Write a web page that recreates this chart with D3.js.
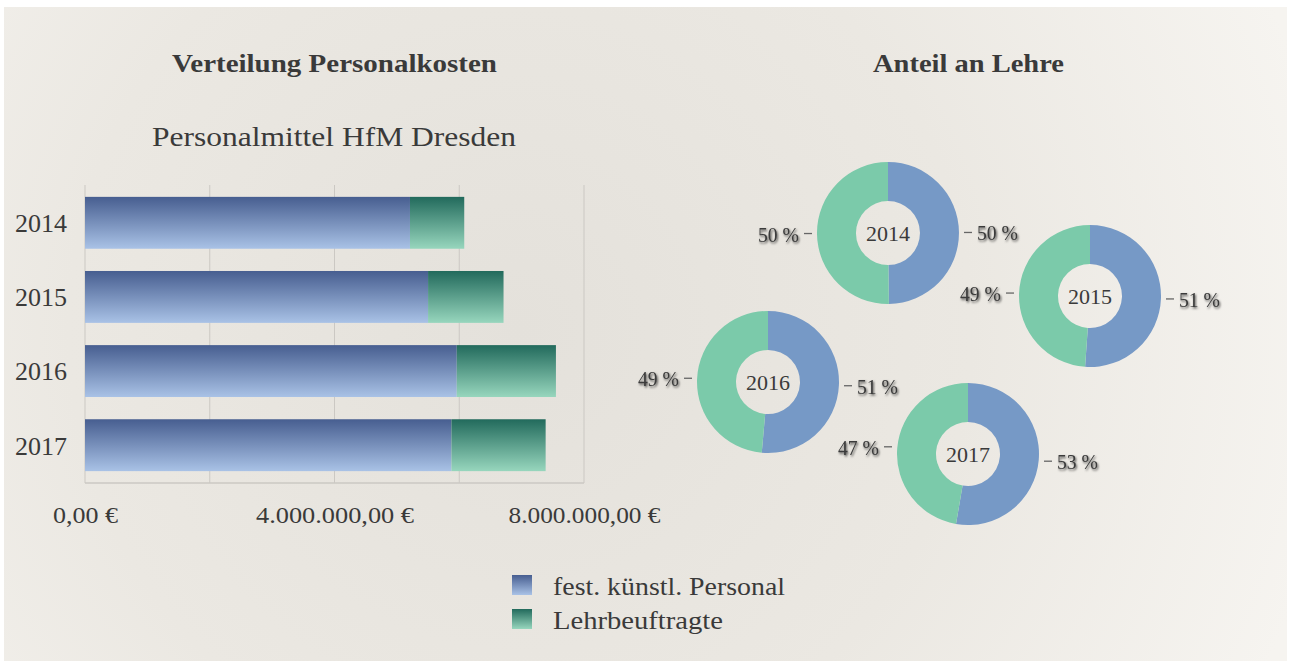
<!DOCTYPE html>
<html><head><meta charset="utf-8">
<script src="https://cdn.jsdelivr.net/npm/d3@7"></script>
<style>
html,body{margin:0;padding:0;background:#fff;}
svg{display:block;}
text{font-family:"Liberation Serif","DejaVu Serif",serif;fill:#3a3a3a;}
</style></head>
<body>
<svg id="c" width="1290" height="665"></svg>
<script>
// ---- data ----
const years = ["2014", "2015", "2016", "2017"];
const festPersonal = [5210000, 5500000, 5960000, 5875000];
const lehrbeauftragte = [870000, 1210000, 1590000, 1510000];
const xTickLabels = [0, 4000000, 8000000];
const xGridValues = [0, 2000000, 4000000, 6000000, 8000000];
const lehreShareFest = [49.8, 51.1, 51.4, 52.7];   // % fest. künstl. Personal
const seriesNames = ["fest. künstl. Personal", "Lehrbeuftragte"];
const titleLeft = "Verteilung Personalkosten";
const titleRight = "Anteil an Lehre";
const subtitle = "Personalmittel HfM Dresden";

const svg = d3.select("#c");
const defs = svg.append("defs");

// background paper
const bg = defs.append("radialGradient").attr("id","bg").attr("gradientUnits","userSpaceOnUse")
  .attr("cx",520).attr("cy",330).attr("r",820);
bg.append("stop").attr("offset","0").attr("stop-color","#e4e1db");
bg.append("stop").attr("offset","0.55").attr("stop-color","#ebe8e2");
bg.append("stop").attr("offset","1").attr("stop-color","#f6f4f0");
svg.append("rect").attr("x",4).attr("y",7).attr("width",1283).attr("height",654).attr("fill","url(#bg)");

function grad(id, top, bottom){
  const g = defs.append("linearGradient").attr("id",id).attr("x1",0).attr("y1",0).attr("x2",0).attr("y2",1);
  g.append("stop").attr("offset","0").attr("stop-color",top);
  g.append("stop").attr("offset","1").attr("stop-color",bottom);
}
grad("gBlue","#475e90","#a9c2e6");
grad("gGreen","#226a5c","#97d6bd");

const shadow = defs.append("filter").attr("id","sh").attr("x","-20%").attr("y","-30%").attr("width","150%").attr("height","170%");
shadow.append("feDropShadow").attr("dx",1).attr("dy",1.5).attr("stdDeviation",1.1).attr("flood-color","#000").attr("flood-opacity",0.7);

function fit(sel, w){ sel.attr("textLength", w).attr("lengthAdjust","spacingAndGlyphs"); return sel; }

// titles
fit(svg.append("text").attr("x",334.5).attr("y",72).attr("text-anchor","middle")
  .attr("font-size",25).attr("font-weight","bold").text(titleLeft),325);
fit(svg.append("text").attr("x",968.5).attr("y",72).attr("text-anchor","middle")
  .attr("font-size",25).attr("font-weight","bold").text(titleRight),191);
fit(svg.append("text").attr("x",334).attr("y",146).attr("text-anchor","middle")
  .attr("font-size",27).text(subtitle),364);

// ---- bar chart ----
const x = d3.scaleLinear().domain([0,8000000]).range([85,584]);
const y = d3.scaleBand().domain(years).range([185,483]).paddingInner(0.3).paddingOuter(0.16);

const de = d3.formatLocale({decimal:",", thousands:".", grouping:[3], currency:["","\u00a0€"]});
const fmt = v => de.format(",.2f")(v) + " €";
const tickWidths = [65, 158, 152];

// grid
svg.append("g").selectAll("line").data(xGridValues).join("line")
  .attr("x1",d=>x(d)).attr("x2",d=>x(d)).attr("y1",185).attr("y2",483)
  .attr("stroke","#cbc8c3").attr("stroke-width",1);
svg.append("line").attr("x1",x(0)).attr("x2",x(8000000)).attr("y1",483).attr("y2",483)
  .attr("stroke","#cbc8c3").attr("stroke-width",1.5);

const rows = years.map((yr,i)=>({yr, a:festPersonal[i], b:lehrbeauftragte[i]}));
const bars = svg.append("g");
bars.selectAll("rect.a").data(rows).join("rect").attr("class","a")
  .attr("x",x(0)).attr("y",d=>y(d.yr)).attr("width",d=>x(d.a)-x(0)).attr("height",y.bandwidth())
  .attr("fill","url(#gBlue)");
bars.selectAll("rect.b").data(rows).join("rect").attr("class","b")
  .attr("x",d=>x(d.a)).attr("y",d=>y(d.yr)).attr("width",d=>x(d.a+d.b)-x(d.a)).attr("height",y.bandwidth())
  .attr("fill","url(#gGreen)");

// y axis labels
const ya = svg.append("g").attr("transform","translate(85,0)")
  .call(d3.axisLeft(y).tickSize(0).tickPadding(18));
ya.select(".domain").remove();
ya.selectAll("text").attr("font-size",26).attr("font-family",null).attr("fill","#3a3a3a")
  .attr("dy","0.36em").attr("textLength",52).attr("lengthAdjust","spacingAndGlyphs");

// x axis labels
const xa = svg.append("g").attr("transform","translate(0,483)")
  .call(d3.axisBottom(x).tickValues(xTickLabels).tickSize(0).tickPadding(23).tickFormat(fmt));
xa.select(".domain").remove();
xa.selectAll("text").attr("font-size",24).attr("font-family",null).attr("fill","#3a3a3a")
  .attr("dy","0.71em").each(function(d,i){ fit(d3.select(this), tickWidths[i]); });

// ---- donuts ----
const centers = [[888,233],[1090,296],[768,382],[968,454]];
const rOut = 71, rIn = 32;
const pie = d3.pie().sort(null).value(d=>d);
const arc = d3.arc().innerRadius(rIn).outerRadius(rOut);
const donutColors = ["#7699c6","#7bcaaa"];

years.forEach((yr,i)=>{
  const [cx,cy] = centers[i];
  const g = svg.append("g").attr("transform",`translate(${cx},${cy})`);
  const vals = [lehreShareFest[i], 100-lehreShareFest[i]];
  const arcs = pie(vals);
  g.selectAll("path").data(arcs).join("path").attr("d",arc).attr("fill",(d,j)=>donutColors[j]);
  g.append("text").attr("text-anchor","middle").attr("y",8).attr("font-size",22).text(yr);
  arcs.forEach((a,j)=>{
    const mid = (a.startAngle+a.endAngle)/2;
    const ly = -Math.cos(mid)*85;
    const right = Math.sin(mid) > 0;
    const s = right ? 1 : -1;
    g.append("line").attr("x1",s*(rOut+5)).attr("x2",s*(rOut+13)).attr("y1",ly).attr("y2",ly)
      .attr("stroke","#666").attr("stroke-width",1.3);
    g.append("text").attr("x",s*(rOut+18)).attr("y",ly+8)
      .attr("text-anchor", right ? "start" : "end")
      .attr("font-size",22).attr("fill","#3a3a3a").attr("filter","url(#sh)")
      .attr("textLength",41).attr("lengthAdjust","spacingAndGlyphs")
      .text(Math.round(a.data) + " %");
  });
});

// ---- legend ----
const lg = svg.append("g");
const legendFills = ["url(#gBlue)","url(#gGreen)"];
seriesNames.forEach((n,i)=>{
  lg.append("rect").attr("x",512).attr("y",575+i*34).attr("width",20).attr("height",20).attr("fill",legendFills[i]);
  fit(lg.append("text").attr("x",553).attr("y",595+i*34).attr("font-size",25).text(n), i===0?232:170);
});
</script>
</body></html>
